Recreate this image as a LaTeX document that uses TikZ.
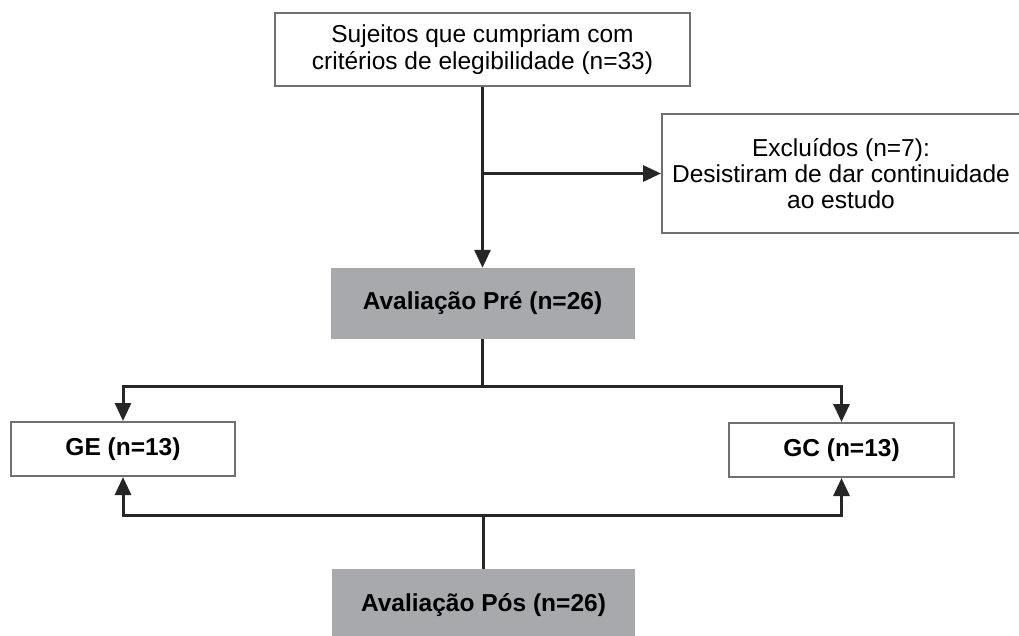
\documentclass[tikz,border=0pt]{standalone}
\usepackage{fontspec}
\setmainfont{Liberation Sans}
\usetikzlibrary{arrows.meta}
\definecolor{boxline}{HTML}{707070}
\definecolor{boxgray}{HTML}{A7A9AC}
\definecolor{conn}{HTML}{262626}
\tikzset{
  plainbox/.style={draw=boxline, line width=2pt, fill=white, align=center, inner sep=0pt,
    font=\fontsize{24.5}{27}\selectfont},
  graybox/.style={draw=none, fill=boxgray, align=center, inner sep=0pt,
    font=\fontsize{24.5}{27}\selectfont\bfseries},
  conline/.style={draw=conn, line width=3pt},
  arr/.style={conline, -{Triangle[length=18pt,width=16pt]}},
}
\begin{document}
\begin{tikzpicture}[x=1pt,y=-1pt]
\useasboundingbox (0,0) rectangle (1019,636);
\clip (0,0) rectangle (1019,636);
\node[plainbox, minimum width=415pt, minimum height=73pt] (top) at (482.5,49.5)
  {Sujeitos que cumpriam com\\critérios de elegibilidade (n=33)};
\node[plainbox, minimum width=358pt, minimum height=119pt, font=\fontsize{24.5}{26}\selectfont] (excl) at (841,173.5)
  {Excluídos (n=7):\\Desistiram de dar continuidade\\ao estudo};
\node[graybox, minimum width=304pt, minimum height=71pt] (pre) at (482.5,303.5)
  {Avaliação Pré (n=26)};
\node[plainbox, minimum width=224pt, minimum height=54pt, font=\fontsize{24.5}{27}\selectfont\bfseries] (ge) at (123,449)
  {GE (n=13)};
\node[plainbox, minimum width=225pt, minimum height=54pt, font=\fontsize{24.5}{27}\selectfont\bfseries] (gc) at (841.5,450)
  {GC (n=13)};
\node[graybox, minimum width=303pt, minimum height=72pt] (pos) at (483.5,605)
  {Avaliação Pós (n=26)};
\coordinate (b1) at (top.south |- excl.west);
\coordinate (j1) at (482.5,386);
\coordinate (j2) at (483.5,515);
\draw[arr] (top.south) -- (pre.north);
\draw[arr] (b1) -- (excl.west);
\draw[conline] (pre.south) -- (j1);
\draw[arr] (j1) -| (ge.north);
\draw[arr] (j1) -| (gc.north);
\draw[conline] (pos.north) -- (j2);
\draw[arr] (j2) -| (ge.south);
\draw[arr] (j2) -| (gc.south);
\end{tikzpicture}
\end{document}
